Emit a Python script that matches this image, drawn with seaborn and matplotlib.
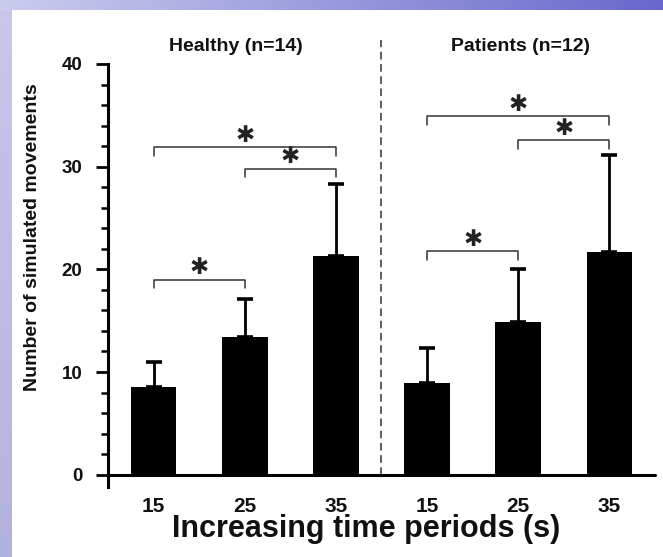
import numpy as np
import pandas as pd
import matplotlib
matplotlib.use("Agg")
import matplotlib.pyplot as plt
import matplotlib.transforms as mtransforms
import seaborn as sns

# ---- data ----
groups = ["Healthy (n=14)", "Patients (n=12)"]
periods = ["15", "25", "35"]
healthy_mean = [8.5, 13.4, 21.3]
healthy_sd = [2.5, 3.7, 7.0]
patients_mean = [8.9, 14.9, 21.7]
patients_sd = [3.4, 5.1, 9.4]
# significance brackets: (bar i, bar j, height)
brackets = [(0, 1, 19.0), (0, 2, 31.9), (1, 2, 29.8),
            (3, 4, 21.8), (3, 5, 34.9), (4, 5, 32.6)]
tick_labels = periods + periods

means = healthy_mean + patients_mean
sds = healthy_sd + patients_sd
df = pd.DataFrame({"slot": list(range(6)), "mean": means, "sd": sds})

sns.set_theme(style="white")
plt.rcParams["font.family"] = ["Liberation Sans", "DejaVu Sans"]
plt.rcParams["font.weight"] = "bold"

W, H = 663, 557
fig = plt.figure(figsize=(W / 100, H / 100), dpi=100)
fig.patch.set_facecolor("white")

# background frame (lavender border with gradient top band)
bg = np.ones((H, W, 3))
left_w, top_h = 12, 10
yy = np.linspace(0, 1, H)[:, None]
left_col = np.array([200, 200, 236]) / 255 * (1 - yy) + np.array([178, 178, 222]) / 255 * yy
bg[:, :left_w, :] = left_col[:, None, :]
xx = np.linspace(0, 1, W)[:, None]
top_col = np.array([204, 204, 238]) / 255 * (1 - xx) + np.array([104, 104, 204]) / 255 * xx
bg[:top_h, :, :] = top_col[None, :, :]
bax = fig.add_axes([0, 0, 1, 1], zorder=-10)
bax.imshow(bg, aspect="auto", interpolation="bilinear")
bax.axis("off")

# main axes geometry (pixels)
ax_l, ax_r = 108, 655
ax_top, ax_bot = 64, 487
ax = fig.add_axes([ax_l / W, (H - ax_bot) / H, (ax_r - ax_l) / W, (ax_bot - ax_top) / H])
ax.set_facecolor("none")

sns.barplot(data=df, x="slot", y="mean", color="black", saturation=1,
            width=0.5, errorbar=None, ax=ax, zorder=2)
for p in ax.patches:
    p.set_edgecolor("none")

ax.errorbar(df["slot"], df["mean"], yerr=[np.zeros(6), df["sd"]], fmt="none",
            ecolor="black", elinewidth=2.0, capsize=6, capthick=2.6, zorder=3)

ax.set_xlim(-0.5, 5.5)
ax.set_ylim(-1.2, 40)

# axes styling
for s in ["top", "right", "bottom"]:
    ax.spines[s].set_visible(False)
ax.spines["left"].set_linewidth(2.2)
ax.spines["left"].set_color("black")
ax.axhline(0, color="black", lw=2.2, zorder=4, clip_on=False)

ax.set_yticks([0, 10, 20, 30, 40])
ax.set_yticks(np.arange(0, 40, 2), minor=True)
ax.tick_params(axis="y", which="major", direction="out", length=8.6, width=2.0,
               color="black", labelsize=13.5, pad=10, left=True)
ax.tick_params(axis="y", which="minor", direction="out", length=5, width=1.8,
               color="black", left=True)
ax.set_xticks(range(6))
ax.set_xticklabels(tick_labels)
ax.tick_params(axis="x", length=0, labelsize=15, pad=7)
for lab in ax.get_xticklabels() + ax.get_yticklabels():
    lab.set_fontweight("bold")
    lab.set_color("#111111")

ax.set_xlabel("Increasing time periods (s)", fontsize=22, fontweight="bold", color="#111111")
ax.xaxis.set_label_coords((366 - ax_l) / (ax_r - ax_l), (ax_bot - 514) / (ax_bot - ax_top))
ax.set_ylabel("Number of simulated movements", fontsize=14, fontweight="bold", color="#111111")
ax.yaxis.set_label_coords((41 - ax_l) / (ax_r - ax_l), (ax_bot - 237) / (ax_bot - ax_top))

# group titles
trans = mtransforms.blended_transform_factory(ax.transData, ax.transAxes)
title_y = (ax_bot - 51) / (ax_bot - ax_top)
ax.text(0.9, title_y, groups[0], transform=trans, ha="center", va="baseline",
        fontsize=14, fontweight="bold", color="#111111")
ax.text(4.03, title_y, groups[1], transform=trans, ha="center", va="baseline",
        fontsize=14, fontweight="bold", color="#111111")

# dashed separator
ax.plot([2.5, 2.5], [0, 42.3], ls=(0, (5, 3)), lw=1.1, color="#333333",
        clip_on=False, zorder=1)

# significance brackets and stars
drop = 0.85
for i, j, h in brackets:
    ax.plot([i, i, j, j], [h - drop, h, h, h - drop], color="#333333", lw=1.1,
            clip_on=False, zorder=3)
    ax.text((i + j) / 2, h + 1.15, "\u2731", ha="center", va="center", fontsize=16.5,
            family=["DejaVu Sans"], fontweight="normal", color="#222222", clip_on=False)

fig.savefig("out.png", dpi=100)
